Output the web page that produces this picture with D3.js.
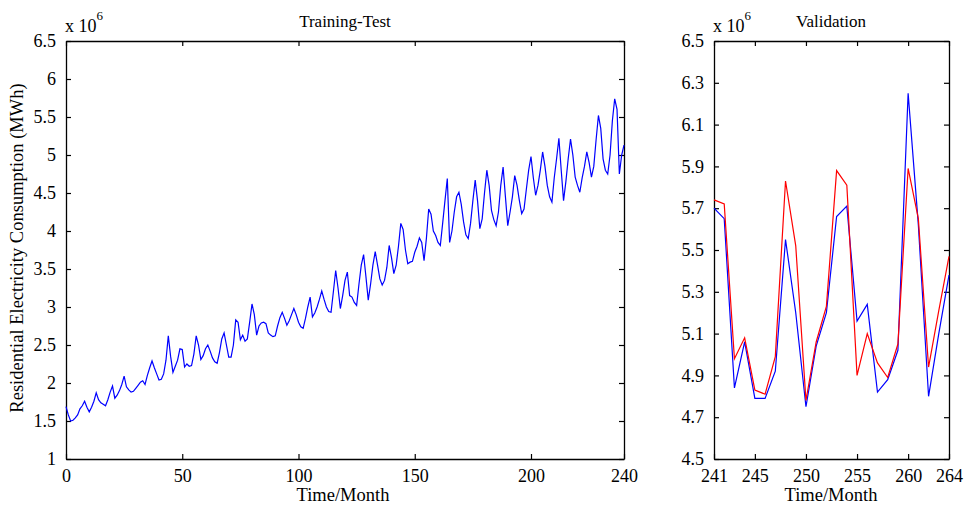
<!DOCTYPE html>
<html>
<head>
<meta charset="utf-8">
<script src="https://cdn.jsdelivr.net/npm/d3@7"></script>
<style>
  body { margin: 0; background: #fff; }
  text { font-family: "Liberation Serif", "Times New Roman", serif; fill: #000; }
</style>
</head>
<body>
<script>
// monthly residential consumption, x 10^6 MWh, months 0..240
let trainTest = [
  1.69, 1.58, 1.50, 1.51, 1.54, 1.58, 1.66, 1.70, 1.76, 1.68,
  1.62, 1.68, 1.76, 1.87, 1.78, 1.74, 1.72, 1.70, 1.78, 1.88,
  1.96, 1.80, 1.84, 1.90, 1.98, 2.09, 1.95, 1.91, 1.88, 1.89,
  1.93, 1.97, 2.01, 2.03, 1.98, 2.10, 2.20, 2.29, 2.20, 2.12,
  2.04, 2.05, 2.12, 2.30, 2.62, 2.35, 2.14, 2.22, 2.30, 2.45,
  2.44, 2.21, 2.25, 2.22, 2.23, 2.38, 2.62, 2.50, 2.31, 2.36,
  2.45, 2.50, 2.42, 2.33, 2.28, 2.26, 2.40, 2.58, 2.66, 2.50,
  2.34, 2.34, 2.50, 2.83, 2.80, 2.57, 2.63, 2.55, 2.58, 2.80,
  3.04, 2.90, 2.63, 2.75, 2.79, 2.80, 2.78, 2.66, 2.63, 2.61,
  2.62, 2.75, 2.86, 2.93, 2.85, 2.76, 2.82, 2.90, 2.98, 2.90,
  2.80, 2.74, 2.72, 2.85, 3.00, 3.13, 2.87, 2.92, 3.00, 3.10,
  3.21, 3.10, 3.00, 2.94, 2.93, 3.20, 3.48, 3.25, 2.98, 3.15,
  3.35, 3.46, 3.15, 3.13, 3.06, 3.02, 3.30, 3.55, 3.69, 3.40,
  3.09, 3.30, 3.55, 3.73, 3.55, 3.37, 3.29, 3.35, 3.52, 3.81,
  3.65, 3.44, 3.55, 3.80, 4.10, 4.02, 3.75, 3.57, 3.59, 3.60,
  3.72, 3.80, 3.91, 3.85, 3.61, 3.90, 4.29, 4.22, 4.00, 3.94,
  3.85, 3.81, 4.10, 4.40, 4.69, 3.85, 4.00, 4.25, 4.45, 4.51,
  4.35, 4.12, 3.95, 3.90, 4.10, 4.40, 4.67, 4.40, 4.03, 4.16,
  4.50, 4.80, 4.60, 4.27, 4.15, 4.07, 4.25, 4.60, 4.84, 4.45,
  4.07, 4.25, 4.45, 4.73, 4.60, 4.40, 4.23, 4.29, 4.55, 4.80,
  4.98, 4.70, 4.47, 4.60, 4.80, 5.04, 4.85, 4.60, 4.45, 4.38,
  4.70, 4.95, 5.22, 4.80, 4.40, 4.65, 4.95, 5.21, 5.00, 4.71,
  4.60, 4.51, 4.70, 4.85, 5.04, 4.90, 4.71, 4.85, 5.20, 5.52,
  5.35, 4.95, 4.80, 4.75, 5.00, 5.45, 5.74, 5.60, 4.75, 5.00,
  5.13
]

// validation months 241..264
let valMonths = d3.range(241, 265)
let valActual = [
  5.70, 5.65, 4.84, 5.06, 4.79, 4.79, 4.92, 5.55, 5.20, 4.75,
  5.04, 5.20, 5.66, 5.71, 5.16, 5.24, 4.82, 4.88, 5.02, 6.25,
  5.62, 4.80, 5.10, 5.38
]
let valForecast = [
  5.74, 5.72, 4.98, 5.08, 4.83, 4.81, 4.99, 5.83, 5.52, 4.78,
  5.06, 5.23, 5.88, 5.81, 4.90, 5.10, 4.96, 4.89, 5.05, 5.89,
  5.65, 4.94, 5.21, 5.47
]

let leftXTicks = [0, 50, 100, 150, 200, 240]
let leftYTicks = [1, 1.5, 2, 2.5, 3, 3.5, 4, 4.5, 5, 5.5, 6, 6.5]
let rightXTicks = [241, 245, 250, 255, 260, 264]
let rightYTicks = [4.5, 4.7, 4.9, 5.1, 5.3, 5.5, 5.7, 5.9, 6.1, 6.3, 6.5]

let width = 965
let height = 506
let plotTop = 41
let plotBottom = 459
let tick = 5

let svg = d3.select('body').append('svg')
  .attr('width', width)
  .attr('height', height)

function panel(x0, x1, xDomain, yDomain, xTicks, yTicks, yFmt, title, titleX) {
  let x = d3.scaleLinear().domain(xDomain).range([x0, x1])
  let y = d3.scaleLinear().domain(yDomain).range([plotBottom, plotTop])
  let g = svg.append('g')

  // tick marks on all four sides, pointing inward
  let axes = [
    [d3.axisBottom(x).tickValues(xTicks).tickFormat(d3.format('d')), 'translate(0,' + plotBottom + ')'],
    [d3.axisTop(x).tickValues(xTicks).tickFormat(''), 'translate(0,' + plotTop + ')'],
    [d3.axisLeft(y).tickValues(yTicks).tickFormat(yFmt), 'translate(' + x0 + ',0)'],
    [d3.axisRight(y).tickValues(yTicks).tickFormat(''), 'translate(' + x1 + ',0)']
  ]
  axes.forEach(function(a) {
    let ax = g.append('g')
      .attr('transform', a[1])
      .call(a[0].tickSizeInner(-tick).tickSizeOuter(0).tickPadding(tick + 5))
    ax.select('.domain').attr('stroke', '#000').attr('stroke-width', 1.3)
    ax.selectAll('.tick line').attr('stroke', '#000').attr('stroke-width', 1.2)
    ax.selectAll('.tick text')
      .style('font-family', '"Liberation Serif", "Times New Roman", serif')
      .style('font-size', '18px')
      .attr('fill', '#000')
  })

  g.append('text')
    .attr('x', titleX)
    .attr('y', 27)
    .attr('text-anchor', 'middle')
    .style('font-size', '17px')
    .text(title)

  let exp = g.append('text')
    .attr('x', x0 - 1)
    .attr('y', 32)
    .style('font-size', '18px')
  exp.append('tspan').text('x 10')
  exp.append('tspan').attr('dy', -12).style('font-size', '13px').text('6')

  return { x: x, y: y, g: g }
}

// left panel
let L = panel(66, 624, [0, 240], [1, 6.5], leftXTicks, leftYTicks, d3.format('~g'), 'Training-Test', 345)

L.g.append('path')
  .datum(trainTest)
  .attr('fill', 'none')
  .attr('stroke', '#0000ff')
  .attr('stroke-width', 1.2)
  .attr('d', d3.line().x((d, i) => L.x(i)).y(d => L.y(d)))

L.g.append('text')
  .attr('x', 343)
  .attr('y', 501)
  .attr('text-anchor', 'middle')
  .style('font-size', '18.5px')
  .text('Time/Month')

L.g.append('text')
  .attr('transform', 'translate(23,248) rotate(-90)')
  .attr('text-anchor', 'middle')
  .style('font-size', '18.5px')
  .text('Residential Electricity Consumption (MWh)')

// right panel
let R = panel(714, 949, [241, 264], [4.5, 6.5], rightXTicks, rightYTicks, d3.format('.1f'), 'Validation', 831)

let rLine = d3.line().x((d, i) => R.x(valMonths[i])).y(d => R.y(d))

R.g.append('path')
  .datum(valActual)
  .attr('fill', 'none')
  .attr('stroke', '#0000ff')
  .attr('stroke-width', 1.2)
  .attr('d', rLine)

R.g.append('path')
  .datum(valForecast)
  .attr('fill', 'none')
  .attr('stroke', '#ff0000')
  .attr('stroke-width', 1.2)
  .attr('d', rLine)

R.g.append('text')
  .attr('x', 831)
  .attr('y', 501)
  .attr('text-anchor', 'middle')
  .style('font-size', '18.5px')
  .text('Time/Month')
</script>
</body>
</html>
